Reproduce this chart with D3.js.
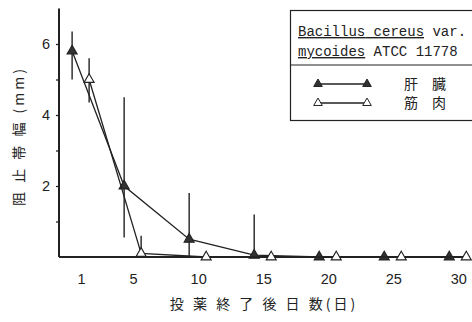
<!DOCTYPE html>
<html><head><meta charset="utf-8">
<script src="https://cdn.jsdelivr.net/npm/d3@7"></script>
<style>body{margin:0;background:#fff}svg{display:block}</style>
</head><body>
<svg id="c" width="472" height="322"></svg>
<script>
const days = [1, 5, 10, 15, 20, 25, 30];
const xTicks = [1, 5, 10, 15, 20, 25, 30];
const yTicksMajor = [2, 4, 6];
const yTicksMinor = [1, 3, 5];
const liverMean = [5.8, 2.0, 0.5, 0.05, 0, 0, 0];
const liverLow  = [5.0, 0.55, 0.0, 0.0, null, null, null];
const liverHigh = [6.35, 4.5, 1.8, 1.2, null, null, null];
const muscleMean = [5.0, 0.1, 0, 0, 0, 0, 0];
const muscleLow  = [4.35, 0.05, null, null, null, null, null];
const muscleHigh = [5.6, 0.6, null, null, null, null, null];
const legendTitle1 = ["Bacillus", "cereus", "var."];
const legendTitle2 = ["mycoides", "ATCC 11778"];
const legendLabels = ["肝　臓", "筋　肉"];
const xLabel = "投 薬 終 了 後 日 数(日)";
const yLabel = "阻 止 帯 幅 (mm)";

const svg = d3.select("#c");
const ink = "#222";
const x = d3.scaleLinear().domain([-0.7, 30.9]).range([59, 470]);
const y = d3.scaleLinear().domain([0, 7]).range([257, 8.5]);
const dodge = {liver: -9, muscle: 8};

// axes
const gy = svg.append("g").attr("transform", "translate(59,0)")
  .call(d3.axisLeft(y).tickValues(yTicksMajor).tickSize(3).tickSizeOuter(0).tickFormat(d3.format("d")));
gy.select(".domain").remove();
svg.append("g").attr("transform", "translate(59,0)")
  .call(d3.axisLeft(y).tickValues(yTicksMinor).tickSize(3).tickFormat(""))
  .select(".domain").remove();
svg.append("line").attr("x1", 59).attr("x2", 59).attr("y1", y(7)).attr("y2", y(0))
  .attr("stroke", ink).attr("stroke-width", 2);
const gx = svg.append("g").attr("transform", "translate(0,257)")
  .call(d3.axisBottom(x).tickValues(xTicks).tickSize(0).tickPadding(17).tickFormat(d3.format("d")));
gx.select(".domain").remove();
svg.append("line").attr("x1", 59).attr("x2", 470).attr("y1", y(0)).attr("y2", y(0))
  .attr("stroke", ink).attr("stroke-width", 2);
svg.selectAll(".tick line").attr("stroke", ink).attr("stroke-width", 1.3);
svg.selectAll(".tick text").attr("font-family", "Liberation Sans, Arial, sans-serif")
  .attr("font-size", 14.5).attr("fill", ink);
gy.selectAll(".tick text").attr("x", -9);

// series
function series(mean, low, high, off, filled) {
  const pts = days.map((d, i) => ({px: x(d) + off, m: mean[i], lo: low[i], hi: high[i]}));
  svg.append("path").datum(pts)
    .attr("d", d3.line().x(p => p.px).y(p => y(p.m)))
    .attr("fill", "none").attr("stroke", ink).attr("stroke-width", 1.3);
  svg.selectAll(null).data(pts.filter(p => p.lo !== null)).enter().append("line")
    .attr("x1", p => p.px).attr("x2", p => p.px)
    .attr("y1", p => y(p.hi)).attr("y2", p => y(p.lo))
    .attr("stroke", ink).attr("stroke-width", 1.4);
  const tri = d3.symbol().type(d3.symbolTriangle).size(44);
  svg.selectAll(null).data(pts).enter().append("path")
    .attr("d", tri)
    .attr("transform", p => `translate(${p.px},${y(p.m)})`)
    .attr("fill", filled ? "#333" : "#fff").attr("stroke", ink).attr("stroke-width", 1.1);
}
series(liverMean, liverLow, liverHigh, dodge.liver, true);
series(muscleMean, muscleLow, muscleHigh, dodge.muscle, false);

// legend
const lg = svg.append("g");
lg.append("rect").attr("x", 290.5).attr("y", 10.5).attr("width", 190).attr("height", 110)
  .attr("fill", "#fff").attr("stroke", ink).attr("stroke-width", 1.2);
lg.append("line").attr("x1", 290).attr("x2", 472).attr("y1", 65).attr("y2", 65)
  .attr("stroke", ink).attr("stroke-width", 1.2);
const mono = "Liberation Mono, DejaVu Sans Mono, monospace";
const t1 = lg.append("text").attr("x", 298).attr("y", 36).attr("font-family", mono)
  .attr("font-size", 14).attr("fill", ink);
legendTitle1.forEach((w, i) => t1.append("tspan").text((i ? " " : "") + w)
  .attr("text-decoration", i < 2 ? "underline" : null));
const t2 = lg.append("text").attr("x", 298).attr("y", 56).attr("font-family", mono)
  .attr("font-size", 14).attr("fill", ink);
legendTitle2.forEach((w, i) => t2.append("tspan").text((i ? " " : "") + w)
  .attr("text-decoration", i < 1 ? "underline" : null));
[true, false].forEach((filled, i) => {
  const yy = 84 + i * 19;
  lg.append("line").attr("x1", 318).attr("x2", 367).attr("y1", yy).attr("y2", yy)
    .attr("stroke", ink).attr("stroke-width", 1.3);
  [318, 367].forEach(xx => lg.append("path").attr("d", d3.symbol().type(d3.symbolTriangle).size(32))
    .attr("transform", `translate(${xx},${yy})`)
    .attr("fill", filled ? "#333" : "#fff").attr("stroke", ink).attr("stroke-width", 1));
  lg.append("text").attr("x", 404).attr("y", yy + 5).text(legendLabels[i])
    .attr("font-family", "Noto Sans CJK JP").attr("font-size", 14).attr("fill", ink);
});

// axis titles
svg.append("text").attr("x", 264).attr("y", 309).attr("text-anchor", "middle")
  .attr("font-family", "Noto Sans CJK JP").attr("font-size", 14).attr("fill", ink)
  .attr("letter-spacing", 3).text(xLabel);
svg.append("text").attr("transform", "translate(24,136) rotate(-90)").attr("text-anchor", "middle")
  .attr("font-family", "Noto Sans CJK JP").attr("font-size", 14).attr("fill", ink)
  .attr("letter-spacing", 3).text(yLabel);
</script>
</body></html>
